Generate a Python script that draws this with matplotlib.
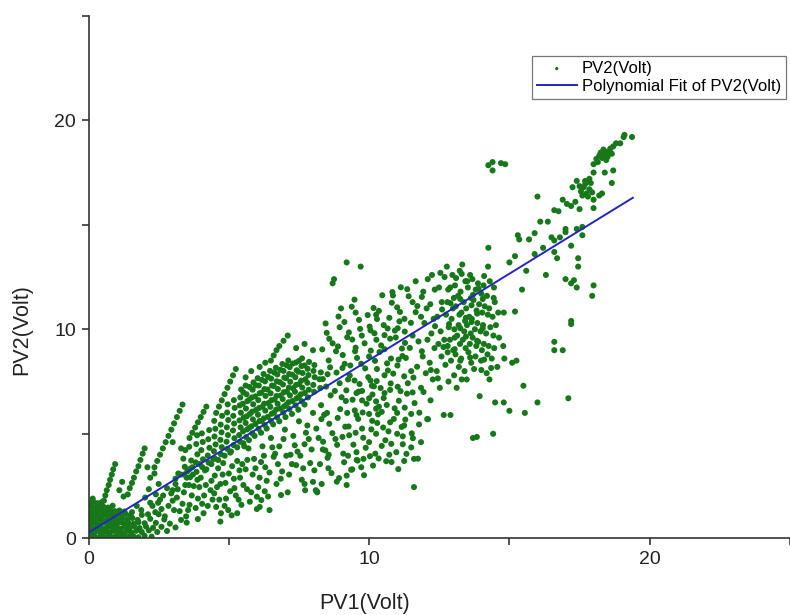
import numpy as np
import matplotlib
matplotlib.use("Agg")
import matplotlib.pyplot as plt

plt.rcParams['font.family'] = ['Liberation Sans', 'DejaVu Sans']

# ---- measured samples (PV1, PV2) in volts, grouped by region ----
corner_pts = [
    (0.03,0.05),(0.15,0.12),(0.28,0.04),(0.42,0.10),(0.55,0.06),(0.70,0.13),(0.83,0.05),(0.97,0.10),
    (1.12,0.04),(1.27,0.12),(1.43,0.07),(1.60,0.10),(1.78,0.05),(2.00,0.12),(2.25,0.08),
    (0.08,0.32),(0.22,0.28),(0.36,0.35),(0.50,0.27),(0.64,0.33),(0.78,0.29),(0.92,0.36),(1.06,0.30),
    (1.20,0.25),(1.35,0.34),(1.52,0.28),(1.70,0.36),(1.90,0.30),(2.15,0.38),(2.45,0.30),(2.80,0.35),
    (0.04,0.52),(0.18,0.48),(0.31,0.55),(0.45,0.50),(0.60,0.47),(0.73,0.56),(0.87,0.50),(1.01,0.54),
    (1.15,0.46),(1.30,0.55),(1.47,0.50),(1.63,0.58),(1.82,0.49),(2.05,0.56),(2.30,0.50),(2.60,0.55),(3.10,0.52),
    (0.10,0.70),(0.24,0.74),(0.38,0.68),(0.52,0.75),(0.66,0.70),(0.80,0.73),(0.95,0.67),(1.10,0.76),
    (1.26,0.70),(1.42,0.74),(1.60,0.69),(1.78,0.77),(2.00,0.72),(2.40,0.74),(2.90,0.70),(3.50,0.75),
    (0.05,0.92),(0.19,0.88),(0.33,0.95),(0.47,0.90),(0.61,0.87),(0.75,0.96),(0.90,0.91),(1.05,0.86),
    (1.20,0.94),(1.38,0.90),(1.56,0.97),(1.75,0.88),(2.20,0.93),(2.70,0.90),(3.30,0.88),(3.90,0.92),
    (0.12,1.10),(0.26,1.14),(0.40,1.07),(0.55,1.13),(0.69,1.08),(0.84,1.15),(1.00,1.10),(1.17,1.06),
    (1.33,1.16),(1.50,1.10),(1.90,1.12),(2.50,1.15),
    (0.06,1.30),(0.20,1.27),(0.34,1.34),(0.48,1.30),(0.63,1.26),(0.78,1.35),(0.94,1.30),(1.10,1.33),(1.28,1.28),
    (0.11,1.52),(0.25,1.48),(0.39,1.55),(0.54,1.50),(0.70,1.47),(0.86,1.56),
    (0.04,1.70),(0.18,1.74),(0.32,1.68),(0.47,1.73),(0.15,1.90),
]

streak_pts = [
    (0.50,1.50),(0.55,1.80),(0.60,2.05),(0.65,2.30),(0.72,2.55),(0.77,2.80),(0.83,3.05),(0.88,3.30),(0.95,3.55),
    (1.40,2.10),(1.47,2.40),(1.55,2.65),(1.62,2.90),(1.70,3.20),(1.78,3.45),(1.85,3.75),(1.93,4.05),(2.00,4.30),
    (2.35,3.40),(2.45,3.70),(2.55,4.00),(2.65,4.30),(2.75,4.60),(2.85,4.90),(2.95,5.20),(3.05,5.50),
    (3.15,5.80),(3.25,6.10),(3.35,6.40),
    (3.60,4.80),(3.70,5.05),(3.80,5.30),(3.90,5.55),(4.00,5.80),(4.10,6.05),(4.20,6.30),
    (4.55,6.00),(4.65,6.30),(4.75,6.60),(4.85,6.90),(4.95,7.20),(5.05,7.50),(5.15,7.80),(5.25,8.10),
    (6.50,8.50),(6.60,8.75),(6.70,9.00),(6.80,9.20),(6.95,9.45),(7.10,9.70),
    (1.10,2.30),(1.25,2.00),(1.20,2.70),(2.10,3.40),(2.35,3.10),(3.00,4.60),(3.30,4.30),
    (2.20,2.90),(5.60,7.70),(5.80,8.00),(6.10,8.20),(6.30,8.40),(7.40,9.10),(7.70,9.30),(8.00,9.00),
]

band_pts = [
    (3.40,3.05),(3.43,3.42),(3.38,3.81),(3.45,4.22),
    (3.62,2.92),(3.60,3.31),(3.66,3.72),(3.59,4.38),
    (3.85,3.18),(3.82,3.63),(3.88,4.02),(3.84,4.51),(3.87,4.93),
    (4.05,3.41),(4.08,3.78),(4.02,4.22),(4.07,4.61),(4.04,5.02),
    (4.28,3.62),(4.25,3.96),(4.31,4.33),(4.27,4.74),(4.30,5.18),
    (4.50,3.82),(4.47,4.17),(4.53,4.49),(4.49,4.87),(4.52,5.24),(4.48,5.62),
    (4.72,4.02),(4.75,4.36),(4.70,4.71),(4.74,5.07),(4.71,5.44),(4.76,5.86),
    (4.95,4.28),(4.92,4.62),(4.97,4.94),(4.93,5.31),(4.98,5.66),(4.94,6.02),(4.96,6.41),
    (5.17,4.46),(5.20,4.79),(5.15,5.16),(5.19,5.49),(5.16,5.86),(5.21,6.24),(5.18,6.61),
    (5.40,4.62),(5.37,4.94),(5.42,5.31),(5.38,5.64),(5.43,6.01),(5.39,6.36),(5.41,6.74),(5.44,7.12),
    (5.62,4.84),(5.65,5.21),(5.60,5.52),(5.64,5.84),(5.61,6.21),(5.66,6.56),(5.63,6.89),(5.60,7.31),
    (5.84,5.02),(5.81,5.36),(5.86,5.69),(5.83,6.06),(5.87,6.41),(5.82,6.74),(5.85,7.11),(5.88,7.46),
    (6.06,5.24),(6.09,5.61),(6.04,5.91),(6.08,6.24),(6.05,6.61),(6.10,6.94),(6.07,7.31),(6.03,7.66),
    (6.28,5.42),(6.25,5.74),(6.30,6.11),(6.26,6.44),(6.31,6.81),(6.27,7.14),(6.29,7.51),(6.24,7.86),
    (6.50,5.61),(6.53,5.96),(6.48,6.29),(6.52,6.61),(6.49,6.94),(6.54,7.31),(6.51,7.64),(6.47,8.01),
    (6.72,5.79),(6.69,6.16),(6.74,6.44),(6.70,6.81),(6.75,7.14),(6.71,7.51),(6.73,7.84),(6.68,8.16),
    (6.94,6.02),(6.97,6.31),(6.92,6.66),(6.96,6.99),(6.93,7.36),(6.98,7.69),(6.95,8.01),(6.91,8.34),
    (7.16,6.19),(7.13,6.51),(7.18,6.84),(7.14,7.21),(7.19,7.49),(7.15,7.86),(7.17,8.19),(7.12,8.51),
    (7.38,6.36),(7.41,6.69),(7.36,7.01),(7.40,7.34),(7.37,7.71),(7.42,8.04),(7.39,8.41),
    (7.60,6.56),(7.57,6.89),(7.62,7.21),(7.58,7.54),(7.63,7.91),(7.59,8.24),(7.61,8.61),
    (7.82,6.74),(7.85,7.11),(7.80,7.44),(7.84,7.81),(7.81,8.11),(7.86,8.44),
    (8.04,7.01),(8.01,7.34),(8.06,7.71),(8.02,8.01),(8.05,8.29),
    (8.26,7.19),(8.23,7.61),(8.28,7.94),
    (5.51,5.12),(5.53,5.77),(5.50,6.44),(5.52,6.98),
    (5.73,5.29),(5.75,5.95),(5.72,6.62),(5.74,7.24),
    (5.95,5.47),(5.97,6.14),(5.94,6.79),(5.96,7.32),
    (6.17,5.62),(6.19,6.29),(6.16,6.97),(6.18,7.58),
    (6.39,5.81),(6.41,6.47),(6.38,7.12),(6.40,7.72),
    (6.61,6.02),(6.63,6.64),(6.60,7.29),(6.62,7.93),
    (6.83,6.21),(6.85,6.83),(6.82,7.47),(6.84,8.06),
    (7.05,6.39),(7.07,7.02),(7.04,7.66),(7.06,8.28),
    (7.27,6.57),(7.29,7.18),(7.26,7.83),(7.28,8.36),
    (7.49,6.76),(7.51,7.38),(7.48,7.97),(7.50,8.49),
    (7.71,6.95),(7.73,7.61),(7.70,8.27),
    (3.10,2.85),(3.28,3.05),(3.52,3.20),(3.72,3.05),(3.95,3.55),(4.15,3.25),(4.38,3.55),(4.62,3.75),
    (4.85,3.95),(5.08,4.15),(5.30,4.35),(5.52,4.55),(5.72,4.70),(5.92,4.90),(6.15,5.05),(6.35,5.25),
    (6.58,5.45),(6.80,5.60),(7.02,5.80),(7.25,5.95),(7.48,6.15),(7.70,6.40),
]

lower_pts = [
    (2.20,1.70),(2.40,2.10),(2.60,1.40),(2.80,2.40),(3.00,1.80),(3.10,2.60),(3.25,1.30),(3.40,2.20),
    (3.50,2.90),(3.60,1.60),(3.75,2.50),(3.90,1.90),(4.00,2.90),(4.10,1.20),(4.20,3.30),(4.35,2.30),
    (4.50,3.00),(4.55,1.50),(4.70,2.60),(4.80,3.60),(4.90,1.90),(5.00,3.10),(5.10,1.10),(5.20,2.40),
    (5.30,3.70),(5.40,2.90),(5.45,1.60),(5.60,3.30),(5.70,4.30),(5.80,2.20),(5.90,3.80),(6.00,1.40),
    (6.10,2.90),(6.20,4.40),(6.30,3.40),(6.40,2.00),(6.50,4.80),(6.60,3.90),(6.70,2.60),(6.80,4.40),
    (6.90,3.20),(7.00,5.20),(7.10,2.20),(7.20,4.00),(7.30,4.90),(7.40,3.50),(7.50,5.60),(7.60,2.80),
    (7.70,4.50),(7.80,5.40),(7.90,3.60),(8.00,6.00),(8.10,2.30),(8.20,4.80),(8.30,5.70),
    (4.70,0.80),(4.72,1.20),(5.30,1.20),(6.45,1.35),(6.86,2.07),(8.15,2.23),(8.85,2.71),(9.20,2.55),
    (9.56,3.75),(8.56,4.00),(8.00,2.70),(6.00,1.99),(6.16,1.83),(6.10,1.50),(7.70,2.60),(7.72,2.30),
    (8.15,2.20),(3.00,2.30),(3.20,3.10),(2.50,2.60),(4.45,3.80),(3.70,3.40),(5.05,4.10),(5.55,4.40),
    (1.55,1.25),(1.72,1.55),(1.88,1.35),(2.02,1.95),(2.12,1.15),(2.28,1.55),(2.38,1.25),(2.55,1.85),
    (2.66,2.05),(2.72,1.05),(2.95,2.15),(3.05,1.35),(3.18,2.35),(3.35,1.65),(3.48,1.05),(3.58,2.55),
    (3.68,2.05),(3.82,1.45),(3.95,2.45),(4.12,2.05),(4.25,1.55),(4.38,2.75),(4.48,2.15),(4.62,3.35),
    (4.66,1.85),(4.88,2.65),(4.98,1.35),(5.12,3.45),(5.25,2.05),(5.38,3.25),(5.52,2.55),(5.66,3.75),
    (5.75,1.75),(5.95,3.35),(6.05,2.45),(6.25,3.95),(6.35,2.75),(6.55,4.35),(6.75,3.55),(6.95,4.75),
    (7.15,3.05),(7.35,4.45),(7.55,3.95),(7.75,5.05),(7.95,4.25),(8.25,3.55),
    (2.15,2.35),(2.48,1.70),(2.85,1.55),(3.15,1.95),(3.45,2.55),(3.55,1.35),(3.88,2.80),(4.05,1.65),
    (4.18,2.55),(4.42,1.85),(4.58,2.45),(4.78,3.05),(4.85,1.55),(5.05,2.25),(5.18,2.85),(5.35,1.85),
    (5.48,3.55),(5.65,2.35),(5.85,3.05),(6.15,3.65),(6.28,2.25),(6.45,3.15),(6.65,4.05),(6.85,2.85),
    (7.05,3.95),(7.25,3.55),(7.45,4.15),(7.65,3.35),(7.85,4.75),(8.05,3.25),(8.35,4.25),(8.12,5.25),
]

mid_pts = [
    (8.31,2.60),(8.52,3.85),(8.36,4.62),(8.58,5.48),(8.29,6.37),(8.47,7.26),(8.61,8.18),(8.33,9.04),
    (8.49,9.83),(8.66,3.12),(8.44,4.21),(8.69,5.03),(8.40,5.91),(8.63,6.84),(8.35,7.62),(8.56,8.51),
    (8.70,9.33),(8.45,10.28),(8.70,12.20),(8.75,12.40),
    (8.93,2.88),(9.11,3.64),(8.86,4.47),(9.15,5.34),(8.97,6.18),(9.19,7.08),(8.84,7.93),(9.06,8.77),
    (9.22,9.62),(8.91,10.61),(9.08,4.05),(8.88,5.76),(9.17,6.57),(8.95,7.42),(9.13,8.35),(8.89,9.18),(9.20,13.20),
    (9.36,3.28),(9.55,4.12),(9.29,4.93),(9.61,5.71),(9.41,6.63),(9.66,7.38),(9.33,8.27),(9.52,9.12),
    (9.68,10.02),(9.38,11.08),(9.59,3.72),(9.44,4.48),(9.27,5.35),(9.49,6.12),(9.63,7.02),(9.31,7.79),
    (9.57,8.63),(9.40,9.51),(9.64,10.45),(9.48,11.42),(9.70,13.00),
    (9.82,3.02),(10.03,3.93),(9.79,4.81),(10.11,5.62),(9.91,6.44),(10.17,7.27),(9.86,8.13),(10.06,8.98),
    (10.19,9.81),(9.95,10.68),(10.14,3.48),(9.88,4.33),(10.08,5.21),(9.77,6.02),(10.12,6.88),(9.97,7.71),
    (10.21,8.49),(9.84,9.33),(10.02,10.13),(10.16,11.02),
    (10.34,3.82),(10.58,4.69),(10.29,5.52),(10.63,6.38),(10.41,7.19),(10.67,8.03),(10.37,8.91),(10.55,9.72),
    (10.28,10.49),(10.47,11.63),(10.61,3.69),(10.45,4.42),(10.69,5.12),(10.32,5.93),(10.52,6.71),(10.27,7.52),
    (10.64,8.37),(10.43,9.23),(10.66,10.04),(10.35,10.88),
    (10.83,11.78),(11.04,3.31),(10.79,4.52),(11.16,5.33),(10.91,6.22),(11.12,7.04),(10.86,7.88),(11.19,8.72),
    (10.95,9.61),(11.08,10.38),(10.81,11.27),(11.13,12.01),(10.97,4.12),(11.20,4.88),(10.88,5.71),(11.06,6.58),
    (10.77,7.41),(11.01,8.27),(11.17,9.08),(10.92,9.94),(11.10,10.83),(10.85,11.62),
    (11.33,4.04),(11.56,4.79),(11.29,5.68),(11.62,6.47),(11.38,7.42),(11.71,8.21),(11.45,9.11),(11.27,9.89),
    (11.66,10.82),(11.41,11.58),(11.60,2.45),(11.74,3.81),(11.52,5.02),(11.79,6.01),(11.35,6.92),(11.58,7.69),
    (11.31,8.63),(11.76,9.42),(11.49,10.31),(11.72,11.11),(11.36,11.92),(11.66,12.30),(11.78,5.45),(11.55,6.98),
    (9.80,3.80),(9.40,3.30),(9.20,3.00),(10.80,3.65),(11.20,4.50),(11.60,3.80),(10.00,6.70),(10.35,6.30),
    (9.75,6.60),(10.10,7.30),(9.55,6.95),(10.45,6.05),(10.25,6.55),
    (8.55,3.35),(8.80,4.75),(8.50,6.00),(8.78,7.05),(8.52,7.85),(8.82,8.95),(8.58,9.55),(8.95,10.10),(9.00,11.00),
    (9.25,3.95),(9.05,4.85),(9.22,6.00),(9.02,6.75),(9.25,7.60),(9.05,8.15),(9.28,9.85),(9.12,10.35),
    (9.72,3.40),(9.52,5.05),(9.75,5.25),(9.55,5.90),(9.75,7.05),(9.48,7.55),(9.72,8.35),(9.50,8.95),(9.74,9.70),(9.52,10.80),
    (10.22,4.05),(10.00,4.60),(10.25,5.00),(10.00,5.95),(10.25,6.20),(10.05,7.55),(10.28,8.10),(10.00,8.70),
    (10.26,9.50),(10.05,9.95),(10.25,10.70),
    (10.72,4.00),(10.50,5.30),(10.75,5.55),(10.55,6.95),(10.75,7.10),(10.55,7.80),(10.78,8.60),(10.55,9.05),
    (10.75,9.55),(10.52,10.20),(10.72,10.55),
    (11.25,3.70),(11.00,5.00),(11.25,5.40),(11.00,6.00),(11.27,6.25),(11.02,7.25),(11.25,7.75),(11.05,8.55),
    (11.28,9.35),(11.02,10.05),(11.26,10.50),(11.00,11.05),
    (11.50,4.35),(11.85,4.60),(11.50,5.95),(11.85,7.20),(11.50,8.00),(11.88,8.95),(11.55,9.70),(11.85,10.60),
    (11.55,11.30),(11.88,11.55),
]

cluster_pts = [
    (12.07,5.70),(11.94,7.00),(12.02,7.90),(11.91,8.70),(12.08,9.50),(11.97,10.30),(12.05,11.00),(11.93,11.80),(12.09,12.40),
    (12.19,6.60),(12.27,7.60),(12.16,8.40),(12.33,9.10),(12.22,9.80),(12.30,10.50),(12.18,11.20),(12.34,11.90),(12.24,12.60),
    (12.52,7.20),(12.41,8.00),(12.58,8.70),(12.47,9.30),(12.55,9.90),(12.43,10.60),(12.59,11.30),(12.49,12.00),(12.54,12.70),
    (12.66,5.90),(12.83,7.50),(12.72,8.30),(12.80,8.90),(12.68,9.50),(12.84,10.10),(12.74,10.70),(12.79,11.30),(12.82,11.90),(12.69,12.50),(12.77,13.00),
    (13.03,7.80),(12.92,8.50),(13.00,9.00),(12.88,9.50),(13.04,10.00),(12.94,10.50),(12.99,11.00),(13.02,11.50),(12.89,12.00),(12.97,12.60),
    (13.12,7.20),(13.20,8.20),(13.08,8.80),(13.24,9.30),(13.14,9.70),(13.19,10.20),(13.22,10.70),(13.09,11.10),(13.17,11.60),(13.06,12.10),(13.23,12.80),
    (13.40,8.00),(13.28,8.60),(13.44,9.10),(13.34,9.50),(13.39,9.90),(13.42,10.40),(13.29,10.80),(13.37,11.30),(13.26,11.80),(13.43,12.30),(13.32,13.10),
    (13.48,7.60),(13.64,8.40),(13.54,8.90),(13.59,9.30),(13.62,9.80),(13.49,10.20),(13.57,10.60),(13.46,11.00),(13.63,11.50),(13.52,12.00),(13.60,12.60),
    (13.84,4.85),(13.74,8.10),(13.79,8.70),(13.82,9.20),(13.69,9.60),(13.77,10.00),(13.66,10.50),(13.83,10.90),(13.72,11.40),(13.80,11.90),(13.68,12.40),
    (13.94,6.80),(13.99,8.50),(14.02,9.00),(13.89,9.40),(13.97,9.90),(13.86,10.30),(14.03,10.80),(13.92,11.20),(14.00,11.70),(13.88,12.20),
    (14.19,7.90),(14.22,8.80),(14.09,9.30),(14.17,9.80),(14.06,10.20),(14.23,10.70),(14.12,11.10),(14.20,11.60),(14.08,12.10),(14.24,13.00),
    (14.42,5.00),(14.29,7.60),(14.37,8.60),(14.26,9.20),(14.43,9.70),(14.32,10.10),(14.40,10.60),(14.28,11.00),(14.44,11.50),(14.25,13.90),
    (14.49,6.50),(14.57,8.20),(14.46,9.10),(14.63,9.60),(14.52,10.20),(14.60,10.80),(14.48,11.30),
    (14.80,6.50),(14.82,8.60),(14.78,9.20),(14.80,10.80),(15.00,13.20),(15.10,8.40),(15.00,6.10),(13.70,4.80),
    (12.10,5.70),(12.90,5.90),(13.05,9.05),(13.25,10.05),(13.45,9.65),(13.65,10.35),(13.85,9.45),(14.05,10.05),
    (13.25,11.45),(13.65,11.15),(14.05,11.45),(13.45,10.55),(13.85,10.75),(12.85,10.25),(12.65,9.15),(12.35,10.15),
    (12.60,10.95),(12.90,11.25),(13.10,12.45),(13.30,12.65),(13.50,12.30),(13.70,11.65),(13.90,11.95),(14.10,12.55),
    (14.30,12.30),(14.45,12.00),(14.35,8.15),(14.00,8.05),(13.30,7.60),(12.45,7.65),(12.20,8.05),(12.80,9.20),
    (13.05,9.60),(13.25,8.50),(13.60,8.65),(14.10,8.55),
]

upper_pts = [
    (18.10,18.15),(18.20,18.30),(18.30,18.20),(18.25,18.45),(18.40,18.40),(18.35,18.60),(18.50,18.50),(18.50,18.25),
    (18.60,18.65),(18.65,18.40),(18.45,18.10),(18.70,18.75),(18.80,18.90),(18.15,18.00),(18.00,17.90),
    (18.95,18.90),(19.07,19.20),(19.37,19.20),(19.10,19.30),
    (17.55,16.60),(17.65,16.80),(17.75,16.50),(17.70,16.95),(17.85,16.70),(17.90,17.00),(17.80,16.35),
    (17.60,16.40),(17.95,16.55),(17.50,16.85),(17.70,17.10),(17.85,17.20),
    (17.25,16.80),(17.40,17.10),(16.90,16.20),(17.05,16.00),(17.20,15.90),(17.35,16.10),(17.50,15.75),
    (16.60,15.70),(16.75,15.65),(18.00,15.80),(18.00,16.20),(18.20,16.40),(18.30,16.50),(18.00,17.50),
    (18.40,17.50),(18.70,17.60),(18.65,17.00),(16.00,16.35),(16.10,15.15),(16.37,15.15),
    (15.70,14.30),(15.90,14.60),(15.30,14.50),(15.35,14.30),(16.50,14.40),(16.80,14.40),(16.60,14.25),
    (17.00,14.80),(17.00,14.65),(17.20,14.00),(17.40,14.80),(17.60,14.50),(17.60,14.90),
    (16.60,13.70),(16.70,13.40),(17.45,13.40),(17.45,13.00),(17.00,12.40),(17.20,12.20),(17.30,12.35),
    (17.40,12.00),(18.00,12.10),(17.95,11.60),(17.20,10.40),(17.20,10.25),(16.60,9.40),(16.60,9.00),
    (16.90,9.00),(15.25,8.50),(15.50,7.30),(16.00,6.50),(17.10,6.70),(15.55,6.00),(15.20,10.85),(15.20,13.50),
    (14.25,17.85),(14.40,18.00),(14.70,17.95),(14.85,17.90),(14.40,17.60),
    (15.60,12.80),(15.90,13.60),(16.20,13.90),(15.45,11.90),(16.30,12.60),
]

# polynomial (order 1) fit of PV2 on PV1
fit_coef = [0.826, 0.27]
fit_x_range = [0.0, 19.4]

x_ticks = [0, 5, 10, 15, 20, 25]
x_tick_labels = ['0', '', '10', '', '20', '']
y_ticks = [0, 5, 10, 15, 20, 25]
y_tick_labels = ['0', '', '10', '', '20', '']

# ---- drawing ----
pts = np.array(corner_pts + streak_pts + band_pts + lower_pts + mid_pts + cluster_pts + upper_pts)
pv1, pv2 = pts[:, 0], pts[:, 1]

fig = plt.figure(figsize=(7.9, 6.15), dpi=100)
ax = fig.add_axes([88.5 / 790, (615 - 538.3) / 615, (790 - 88.5) / 790, 522.5 / 615])

green = '#17781a'
ax.scatter(pv1, pv2, s=19, color=green, edgecolors='none',
           label='PV2(Volt)', zorder=2)

fx = np.linspace(fit_x_range[0], fit_x_range[1], 50)
ax.plot(fx, np.polyval(fit_coef, fx), color='#2424c4', lw=1.4,
        label='Polynomial Fit of PV2(Volt)', zorder=3)

ax.set_xlim(0, 24.7)
ax.set_ylim(0, 25)
ax.set_xticks(x_ticks)
ax.set_xticklabels(x_tick_labels)
ax.set_yticks(y_ticks)
ax.set_yticklabels(y_tick_labels)

for side in ('top', 'right'):
    ax.spines[side].set_visible(False)
for side in ('left', 'bottom'):
    ax.spines[side].set_linewidth(1.2)
    ax.spines[side].set_color('#333333')
    ax.spines[side].set_clip_on(False)
ax.tick_params(direction='out', length=5, width=1.2, color='#333333',
               labelsize=14, pad=4, labelcolor='#222222')

ax.set_xlabel('PV1(Volt)', fontsize=15.5, color='#222222')
ax.set_ylabel('PV2(Volt)', fontsize=15.5, color='#222222')
ax.xaxis.set_label_coords((365 - 88.5) / 701.5, -0.105)
ax.yaxis.set_label_coords(-0.08, 0.40)

leg = ax.legend(loc='upper right', bbox_to_anchor=(786 / 790, 1 - 56 / 615),
                bbox_transform=fig.transFigure, borderaxespad=0,
                fontsize=12, frameon=True,
                fancybox=False, edgecolor='#777777', framealpha=1,
                handlelength=2.4, handletextpad=0.3, borderpad=0.3,
                labelspacing=0.15, markerscale=0.55, scatterpoints=1)
leg.get_frame().set_linewidth(0.9)

fig.savefig('out.png', dpi=100)
